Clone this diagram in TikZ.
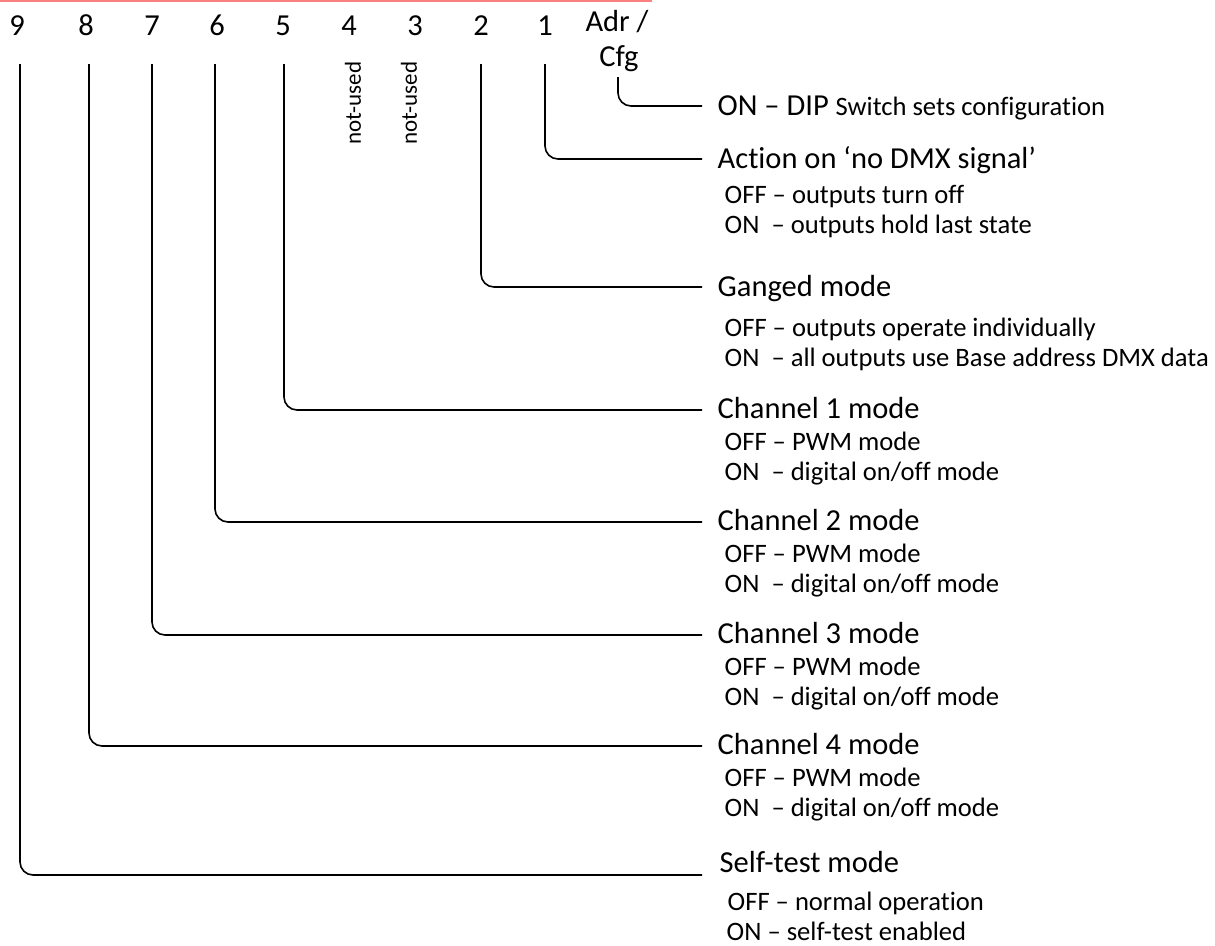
\documentclass[tikz,border=0pt]{standalone}
\usepackage{fontspec}
\setmainfont{Carlito}[Ligatures=CommonOff]
\begin{document}
\begin{tikzpicture}[x=1pt,y=-1pt,
  num/.style={anchor=base, inner sep=0pt, font=\fontsize{30.5}{34}\selectfont},
  head/.style={anchor=base west, inner sep=0pt, font=\fontsize{30.5}{34}\selectfont},
  sub/.style={anchor=base west, inner sep=0pt, font=\fontsize{26.6}{30}\selectfont},
  vlab/.style={inner sep=0pt, rotate=90, font=\fontsize{23}{26}\selectfont},
  conn/.style={line width=1.6pt, rounded corners=13pt}]
\useasboundingbox (0,0) rectangle (1215,945);
\draw[color={rgb,255:red,250;green,128;blue,128}, line width=2pt] (0,0.8) -- (652,0.8);
% numbers
\node[num] (n9) at (17,35) {9};
\node[num] (n8) at (86,35) {8};
\node[num] (n7) at (152,35) {7};
\node[num] (n6) at (217,35) {6};
\node[num] (n5) at (283,35) {5};
\node[num] (n4) at (349,35) {4};
\node[num] (n3) at (415,35) {3};
\node[num] (n2) at (481,35) {2};
\node[num] (n1) at (545,35) {1};
\node[num] (adr) at (617,31) {Adr /};
\node[num] (cfg) at (619,66) {Cfg};
\node[vlab] (nu4) at (353,103) {not-used};
\node[vlab] (nu3) at (409,103) {not-used};
% texts
\node[head] (tdip) at (717.5,115) {ON – DIP {\fontsize{26.6}{30}\selectfont Switch sets configuration}};
\node[head] (tact) at (717.5,168) {Action on ‘no DMX signal’};
\node[sub] at (724.5,203) {OFF – outputs turn off};
\node[sub] at (724.5,233) {ON\ \ – outputs hold last state};
\node[head] (tgang) at (717.5,296) {Ganged mode};
\node[sub] at (724.5,336) {OFF – outputs operate individually};
\node[sub] at (724.5,366) {ON\ \ – all outputs use Base address DMX data};
\node[head] (tch1) at (717.5,418) {Channel 1 mode};
\node[sub] at (724.5,450) {OFF – PWM mode};
\node[sub] at (724.5,480) {ON\ \ – digital on/off mode};
\node[head] (tch2) at (717.5,530) {Channel 2 mode};
\node[sub] at (724.5,562) {OFF – PWM mode};
\node[sub] at (724.5,592) {ON\ \ – digital on/off mode};
\node[head] (tch3) at (717.5,643) {Channel 3 mode};
\node[sub] at (724.5,675) {OFF – PWM mode};
\node[sub] at (724.5,705) {ON\ \ – digital on/off mode};
\node[head] (tch4) at (717.5,754) {Channel 4 mode};
\node[sub] at (724.5,786) {OFF – PWM mode};
\node[sub] at (724.5,816) {ON\ \ – digital on/off mode};
\node[head] (tself) at (719.5,872) {Self-test mode};
\node[sub] at (727.5,910) {OFF – normal operation};
\node[sub] at (726.5,940) {ON – self-test enabled};
% connectors
\draw[conn] (cfg.base) ++(-1,11) |- ([shift={(-15.5,-9)}]tdip.base west);
\draw[conn] (n1.base) ++(0,29) |- ([shift={(-15.5,-9)}]tact.base west);
\draw[conn] (n2.base) ++(0,29) |- ([shift={(-15.5,-9)}]tgang.base west);
\draw[conn] (n5.base) ++(1,29) |- ([shift={(-15.5,-8)}]tch1.base west);
\draw[conn] (n6.base) ++(-2,29) |- ([shift={(-15.5,-8)}]tch2.base west);
\draw[conn] (n7.base) ++(0,29) |- ([shift={(-15.5,-8)}]tch3.base west);
\draw[conn] (n8.base) ++(3,29) |- ([shift={(-15.5,-8)}]tch4.base west);
\draw[conn] (n9.base) ++(3,29) |- ([shift={(-17.5,3)}]tself.base west);
\end{tikzpicture}
\end{document}
